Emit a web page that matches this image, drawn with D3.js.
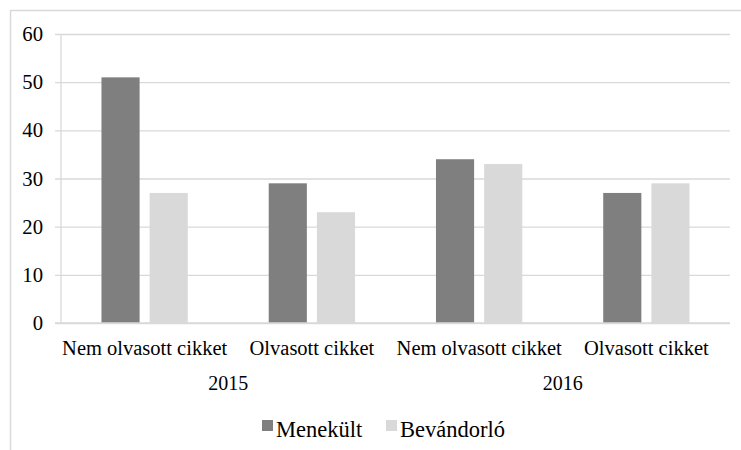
<!DOCTYPE html>
<html><head><meta charset="utf-8">
<script src="https://cdn.jsdelivr.net/npm/d3@7"></script>
<style>body{margin:0;background:#fff}svg{display:block}</style>
</head><body><svg id="c" width="741" height="450" font-family="Liberation Serif"></svg>
<script>
const years = ["2015", "2016"];
const subCategories = ["Nem olvasott cikket", "Olvasott cikket"];
const seriesNames = ["Menekült", "Bevándorló"];
const menekult = [51, 29, 34, 27];
const bevandorlo = [27, 23, 33, 29];
const yTicks = [0, 10, 20, 30, 40, 50, 60];

const FONT = "Liberation Serif";
const colors = ["#7f7f7f", "#d9d9d9"];
const svg = d3.select("#c");
const L = 61, R = 730, T = 34, B = 323;

// chart border
svg.append("rect").attr("x", 10.5).attr("y", 10.5).attr("width", 800).attr("height", 600)
  .attr("fill", "none").attr("stroke", "#d9d9d9").attr("stroke-width", 1.5);

const cats = [];
years.forEach(yr => subCategories.forEach(s => cats.push({id: yr + "|" + s, year: yr, label: s})));
const rows = cats.map((c, i) => ({...c, values: [menekult[i], bevandorlo[i]]}));

const x0 = d3.scaleBand().domain(cats.map(c => c.id)).range([L, R]).padding(0);
const x1 = d3.scaleBand().domain(seriesNames).range([0, x0.bandwidth()]).paddingInner(10/48).paddingOuter(0.84);
const y = d3.scaleLinear().domain([0, 60]).range([B, T]);

// gridlines + tick labels
const ga = svg.append("g").attr("transform", `translate(${L - 6},0)`)
  .call(d3.axisLeft(y).tickValues(yTicks).tickSizeInner(-(R - L + 6)).tickSizeOuter(0).tickPadding(12));
ga.attr("font-family", FONT).attr("font-size", 20.7);
ga.select(".domain").remove();
ga.selectAll(".tick line").attr("stroke", "#d9d9d9").attr("stroke-width", 1.3);
ga.selectAll(".tick text").attr("font-family", FONT).attr("font-size", 20.7).attr("fill", "#000").attr("dy", "0.32em");

// left axis line
svg.append("line").attr("x1", L).attr("x2", L).attr("y1", T).attr("y2", B)
  .attr("stroke", "#d9d9d9").attr("stroke-width", 1.3);

// bars
const g = svg.append("g");
rows.forEach(r => {
  seriesNames.forEach((s, k) => {
    g.append("rect")
      .attr("x", x0(r.id) + x1(s))
      .attr("width", x1.bandwidth())
      .attr("y", y(r.values[k]))
      .attr("height", y(0) - y(r.values[k]))
      .attr("fill", colors[k]);
  });
});

// baseline
svg.append("line").attr("x1", L - 6).attr("x2", R).attr("y1", B).attr("y2", B)
  .attr("stroke", "#d9d9d9").attr("stroke-width", 1.3);

// category axis
const xa = svg.append("g").attr("transform", `translate(0,${B})`)
  .call(d3.axisBottom(x0).tickSize(0).tickPadding(17).tickFormat(id => id.split("|")[1]));
xa.attr("font-family", FONT).attr("font-size", 20.5);
xa.select(".domain").remove();
xa.selectAll(".tick text").attr("font-family", FONT).attr("font-size", 20.5).attr("fill", "#000");

// year labels
years.forEach(yr => {
  const ids = cats.filter(c => c.year === yr).map(c => c.id);
  const cx = (x0(ids[0]) + x0(ids[ids.length - 1]) + x0.bandwidth()) / 2;
  svg.append("text").attr("x", cx).attr("y", 390).attr("text-anchor", "middle")
    .attr("font-family", FONT).attr("font-size", 20).attr("fill", "#000").text(yr);
});

// legend
const legX = [262, 386];
seriesNames.forEach((s, k) => {
  svg.append("rect").attr("x", legX[k]).attr("y", 420).attr("width", 11).attr("height", 11).attr("fill", colors[k]);
  svg.append("text").attr("x", legX[k] + 14).attr("y", 437)
    .attr("font-family", FONT).attr("font-size", 22.5).attr("fill", "#000").text(s);
});
</script></body></html>
